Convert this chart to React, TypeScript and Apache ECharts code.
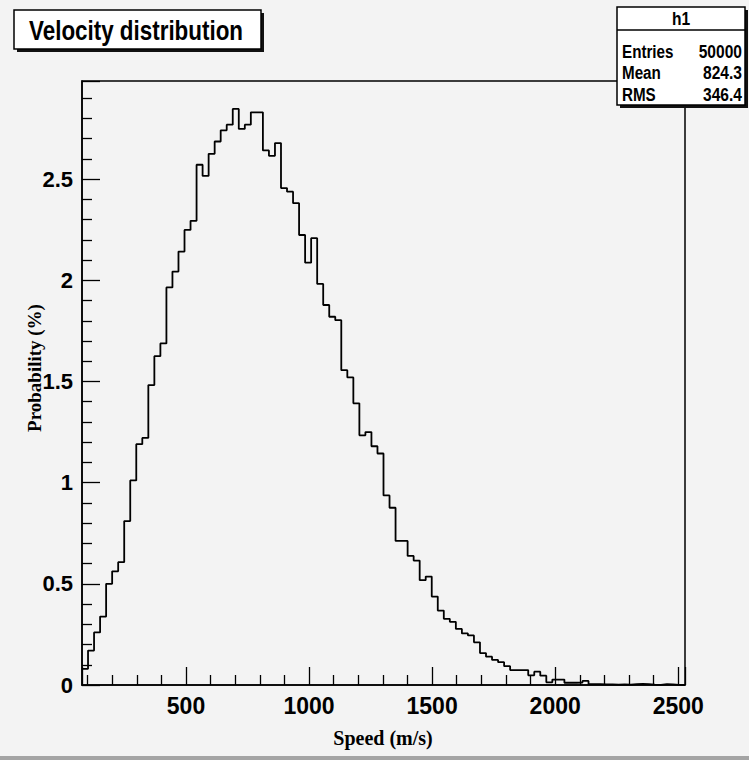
import React, { useEffect, useRef } from "react";
import * as echarts from "echarts";

// Histogram binning (speed, m/s)
const binStart = 77.5;
const binWidth = 24.5;

// Probability (%) per bin
const probability = [
  0.08, 0.17, 0.26, 0.338, 0.5, 0.562, 0.607, 0.81, 1.011, 1.19,
  1.221, 1.482, 1.625, 1.688, 1.965, 2.043, 2.142, 2.249, 2.294, 2.571,
  2.516, 2.625, 2.686, 2.741, 2.769, 2.847, 2.748, 2.769, 2.83, 2.83,
  2.642, 2.615, 2.678, 2.456, 2.438, 2.381, 2.224, 2.087, 2.208, 1.982,
  1.878, 1.82, 1.803, 1.556, 1.52, 1.392, 1.234, 1.25, 1.18, 1.144,
  0.937, 0.876, 0.712, 0.712, 0.638, 0.615, 0.518, 0.536, 0.437, 0.368,
  0.327, 0.312, 0.277, 0.255, 0.245, 0.211, 0.158, 0.14, 0.124, 0.113,
  0.093, 0.074, 0.074, 0.074, 0.048, 0.066, 0.046, 0.013, 0.027, 0.027,
  0.011, 0.011, 0.012, 0.02, 0.004, 0.004, 0.003, 0.003, 0.002, 0.003,
  0.002, 0.004, 0.005, 0.004, 0.002, 0.001, 0.004, 0.003, 0.001, 0.0,
];

const xTickLabels = [500, 1000, 1500, 2000, 2500];
const yTickLabels = [0, 0.5, 1, 1.5, 2, 2.5];
const xRange = [77.5, 2527.5];
const yRange = [0, 2.985];

const histTitle = "Velocity distribution";
const statsName = "h1";
const statsLabels = ["Entries", "Mean", "RMS"];
const statsValues = ["50000", "824.3", "346.4"];
const xTitle = "Speed (m/s)";
const yTitle = "Probability (%)";

const SANS = "'Liberation Sans', Arial, Helvetica, sans-serif";
const SERIF = "'Liberation Serif', 'DejaVu Serif', serif";

export default function App() {
  const ref = useRef<HTMLDivElement>(null);

  useEffect(() => {
    if (!ref.current) return;
    const chart = echarts.init(ref.current, undefined, { renderer: "svg" });

    const points: number[][] = probability.map((v, i) => [binStart + i * binWidth, v]);
    points.push([binStart + probability.length * binWidth, probability[probability.length - 1]]);

    const statsRows = statsLabels.flatMap((lab, i) => [
      {
        type: "text",
        x: 622,
        y: 51 + i * 21.5,
        scaleX: 0.8,
        style: { text: lab, fill: "#000", font: `bold 19px ${SANS}`, align: "left", verticalAlign: "middle" },
      },
      {
        type: "text",
        x: 742,
        y: 51 + i * 21.5,
        scaleX: 0.82,
        style: { text: statsValues[i], fill: "#000", font: `bold 19px ${SANS}`, align: "right", verticalAlign: "middle" },
      },
    ]);

    chart.setOption({
      animation: false,
      backgroundColor: "#f3f3f3",
      grid: {
        left: 82,
        top: 81,
        right: 64,
        bottom: 75,
        show: true,
        borderColor: "#000",
        borderWidth: 1.5,
        backgroundColor: "transparent",
      },
      xAxis: {
        type: "value",
        min: xRange[0],
        max: xRange[1],
        minInterval: 500,
        maxInterval: 500,
        axisLine: { show: true, lineStyle: { color: "#000", width: 1.5 } },
        axisTick: { show: true, inside: true, length: 18, lineStyle: { color: "#000", width: 1.3 } },
        minorTick: { show: true, splitNumber: 5, length: 10, lineStyle: { color: "#000", width: 1.3 } },
        splitLine: { show: false },
        axisLabel: {
          color: "#000",
          fontFamily: SANS,
          fontWeight: "bold",
          fontSize: 23,
          margin: 9,
          showMinLabel: false,
          showMaxLabel: false,
          formatter: (v: number) => (xTickLabels.includes(v) ? String(v) : ""),
        },
      },
      yAxis: {
        type: "value",
        min: yRange[0],
        max: yRange[1],
        minInterval: 0.5,
        maxInterval: 0.5,
        axisLine: { show: true, lineStyle: { color: "#000", width: 1.5 } },
        axisTick: { show: true, inside: true, length: 18, lineStyle: { color: "#000", width: 1.3 } },
        minorTick: { show: true, splitNumber: 5, length: 10, lineStyle: { color: "#000", width: 1.3 } },
        splitLine: { show: false },
        axisLabel: {
          color: "#000",
          fontFamily: SANS,
          fontWeight: "bold",
          fontSize: 22,
          margin: 9,
          showMaxLabel: false,
          formatter: (v: number) => (yTickLabels.includes(v) ? String(v) : ""),
        },
      },
      series: [
        {
          type: "line",
          step: "end",
          data: points,
          showSymbol: false,
          symbol: "none",
          clip: true,
          lineStyle: { color: "#000", width: 1.8 },
        },
      ],
      graphic: [
        { type: "rect", shape: { x: 0, y: 756, width: 749, height: 4 }, style: { fill: "#a4a4a4" } },
        // title box
        { type: "rect", shape: { x: 17, y: 13, width: 247, height: 39 }, style: { fill: "#111" } },
        { type: "rect", shape: { x: 14, y: 10, width: 247, height: 39 }, style: { fill: "#fff", stroke: "#000", lineWidth: 1.5 } },
        {
          type: "text",
          x: 136,
          y: 30,
          scaleX: 0.8,
          style: { text: histTitle, fill: "#000", font: `bold 28px ${SANS}`, align: "center", verticalAlign: "middle" },
        },
        // stats box
        { type: "rect", shape: { x: 620, y: 10, width: 128, height: 98 }, style: { fill: "#111" } },
        { type: "rect", shape: { x: 617, y: 7, width: 128, height: 98 }, style: { fill: "#fff", stroke: "#000", lineWidth: 1.5 } },
        { type: "line", shape: { x1: 617, y1: 30, x2: 745, y2: 30 }, style: { stroke: "#000", lineWidth: 1.5 } },
        {
          type: "text",
          x: 681,
          y: 18,
          scaleX: 0.82,
          style: { text: statsName, fill: "#000", font: `bold 19px ${SANS}`, align: "center", verticalAlign: "middle" },
        },
        ...statsRows,
        // axis titles
        {
          type: "text",
          x: 383,
          y: 738,
          style: { text: xTitle, fill: "#000", font: `bold 20px ${SERIF}`, align: "center", verticalAlign: "middle" },
        },
        {
          type: "text",
          x: 34,
          y: 368,
          rotation: Math.PI / 2,
          style: { text: yTitle, fill: "#000", font: `bold 19px ${SERIF}`, align: "center", verticalAlign: "middle" },
        },
      ],
    });

    return () => chart.dispose();
  }, []);

  return (
    <div
      ref={ref}
      style={{ position: "fixed", left: 0, top: 0, width: 749, height: 760, background: "#f3f3f3" }}
    />
  );
}
